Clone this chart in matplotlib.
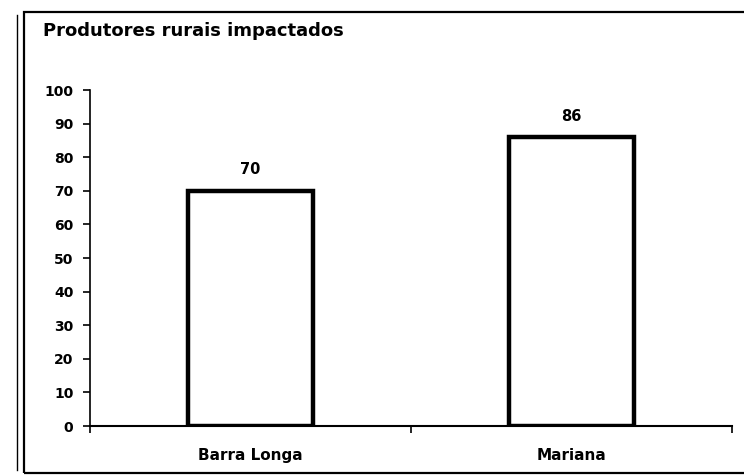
import matplotlib
matplotlib.use("Agg")
import matplotlib.pyplot as plt
from matplotlib.patches import Rectangle

plt.rcParams["font.family"] = ["DejaVu Sans"]
plt.rcParams["font.weight"] = "bold"

# -----------------------------
# DATA
# -----------------------------
municipios = ["Barra Longa", "Mariana"]
produtores = [70, 86]
y_ticks = [0, 10, 20, 30, 40, 50, 60, 70, 80, 90, 100]
titulo = "Produtores rurais impactados"

fig = plt.figure(figsize=(7.44, 4.75), dpi=100)
ax = fig.add_axes([90 / 744, 1 - 426 / 475, 642 / 744, 336 / 475])

x = range(len(municipios))
bars = ax.bar(
    x,
    produtores,
    width=0.39,
    color="white",
    edgecolor="black",
    linewidth=3.2
)

for b, v in zip(bars, produtores):
    ax.text(
        b.get_x() + b.get_width() / 2,
        v + 4,
        str(v),
        ha="center",
        va="bottom",
        fontsize=10.5,
        fontweight="bold"
    )

ax.set_xlim(-0.5, 1.5)
ax.set_ylim(0, 100)
ax.set_yticks(y_ticks)
ax.set_yticklabels([str(t) for t in y_ticks], fontsize=10, fontweight="bold")

ax.set_xticks(list(x))
ax.set_xticklabels(municipios, fontsize=11, fontweight="bold")
ax.set_xticks([-0.5, 0.5, 1.5], minor=True)
ax.tick_params(axis="x", which="major", length=0, pad=16)
ax.tick_params(axis="x", which="minor", length=5, width=1.2, direction="out")
ax.tick_params(axis="y", length=5, width=1.2, direction="out", pad=7)

for side in ["top", "right"]:
    ax.spines[side].set_visible(False)
ax.spines["left"].set_linewidth(1.2)
ax.spines["bottom"].set_linewidth(1.5)

fig.text(43 / 744, 1 - 31 / 475, titulo, fontsize=13, fontweight="bold",
         ha="left", va="center")

# outer chart frame
fig.patches.append(
    Rectangle((24 / 744, 1 - 473 / 475), 730 / 744, 461 / 475,
              transform=fig.transFigure, fill=False,
              edgecolor="black", linewidth=1.6, clip_on=False)
)
fig.lines.append(
    plt.Line2D([17 / 744, 17 / 744], [1 - 470 / 475, 1 - 15 / 475],
               transform=fig.transFigure, color="black", linewidth=1.0)
)

fig.savefig("out.png", dpi=100)
plt.close(fig)
